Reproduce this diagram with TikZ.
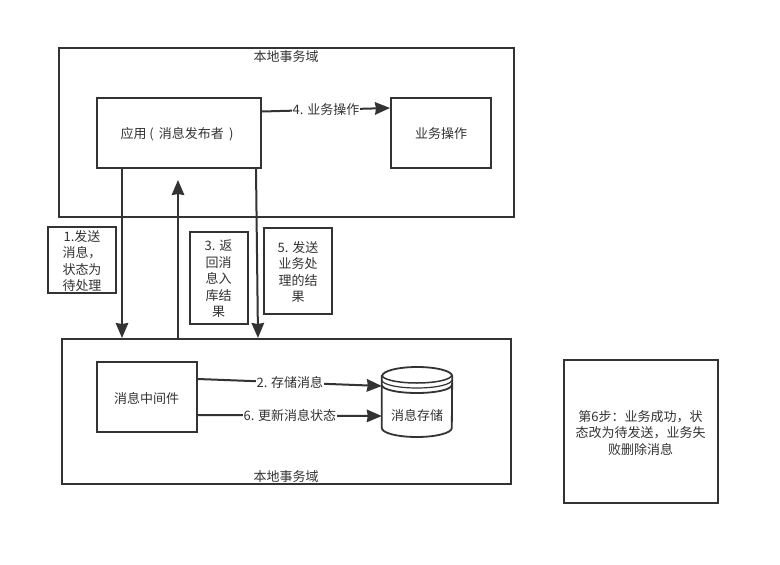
\documentclass[tikz,border=0pt]{standalone}
\usepackage{fontspec}
\setmainfont{Noto Sans CJK SC}[Scale=1]
\usetikzlibrary{arrows.meta}
\definecolor{ink}{HTML}{333333}
\tikzset{
  x=1pt,y=-1pt,
  every node/.style={font=\fontsize{13}{16.5}\selectfont,text=ink,inner sep=0pt,align=center},
  boxed/.style={draw=ink,line width=2pt,fill=white},
  plain/.style={anchor=center},
  conn/.style={draw=ink,line width=2pt,-{Stealth[length=15pt,width=12.5pt,inset=1pt]}},
  connlabel/.style={fill=white,inner xsep=1pt,inner ysep=1pt},
  cyl/.style={draw=ink,line width=1.8pt},
}
\begin{document}
\begin{tikzpicture}
\useasboundingbox (0,0) rectangle (780,565);
% domains
\node[boxed,minimum width=455pt,minimum height=169pt,anchor=north west] (top) at (58,47) {};
\node[boxed,minimum width=449pt,minimum height=145pt,anchor=north west] (bot) at (61,338) {};
\node[plain] (toplabel) at (286,57) {本地事务域};
\node[plain] (botlabel) at (286,477) {本地事务域};
% boxes
\node[boxed,minimum width=164pt,minimum height=70pt] (app) at (179,133) {};
\node[plain] (apptext) at (177,134) {应用 ( \,消息发布者 \,)};
\node[boxed,minimum width=100pt,minimum height=70pt] (biz) at (441,133) {};
\node[plain] (biztext) at (441,134) {业务操作};
\node[boxed,minimum width=100pt,minimum height=70pt] (mq) at (147,397) {};
\node[plain] (mqtext) at (146.5,398) {消息中间件};
\node[boxed,minimum width=154pt,minimum height=143pt,text width=146pt] (note) at (641,431.5) {};
\node[plain,text width=146pt] (notetext) at (640.5,433) {第6步：业务成功，状\\态改为待发送，业务失\\败删除消息};
% cylinder
\node[minimum width=70pt,minimum height=70pt] (store) at (417,402) {};
\draw[cyl,fill=white] (store.west |- 0,376) -- (store.west |- 0,428)
   arc[start angle=180,end angle=360,x radius=35pt,y radius=9pt]
   -- (store.east |- 0,376)
   arc[start angle=0,end angle=180,x radius=35pt,y radius=9pt] -- cycle;
\draw[cyl,line width=1.5pt] (store.west |- 0,375) arc[start angle=180,end angle=360,x radius=35pt,y radius=8pt];
\draw[cyl,line width=1.2pt] (store.west |- 0,380) arc[start angle=180,end angle=360,x radius=35pt,y radius=8pt];
\draw[cyl] (store.west |- 0,385) arc[start angle=180,end angle=360,x radius=35pt,y radius=8pt];
\node[plain] (storetext) at (417,415) {消息存储};
% connectors
\coordinate (a3end) at (178,180);
\draw[conn] (app.south west -| 122,0) -- (bot.north west -| 122,0);
\draw[conn] (bot.north west -| 178,0) -- (a3end);
\draw[conn] (app.south west -| 256,0) -- (bot.north west -| 258,0);
\draw[conn] (app.east |- 0,111.5) -- node[connlabel,pos=.5] (l4) {4. 业务操作} (biz.west |- 0,108);
\draw[conn] (mq.east |- 0,379) -- node[connlabel,pos=.5] (l2) {2. 存储消息} (store.west |- 0,386);
\draw[conn] (mq.east |- 0,415) -- node[connlabel,pos=.5] (l6) {6. 更新消息状态} (store.west |- 0,416);
% step boxes
\node[boxed,minimum width=68pt,minimum height=66pt] (s1) at (82,260) {};
\node[plain] (s1t) at (82,261) {1.发送\\消息，\\状态为\\待处理};
\node[boxed,minimum width=58pt,minimum height=92pt] (s3) at (219,277.5) {};
\node[plain] (s3t) at (218.5,279) {3. 返\\回消\\息入\\库结\\果};
\node[boxed,minimum width=68pt,minimum height=86pt] (s5) at (298,270.5) {};
\node[plain] (s5t) at (298,272) {5. 发送\\业务处\\理的结\\果};
\end{tikzpicture}
\end{document}
